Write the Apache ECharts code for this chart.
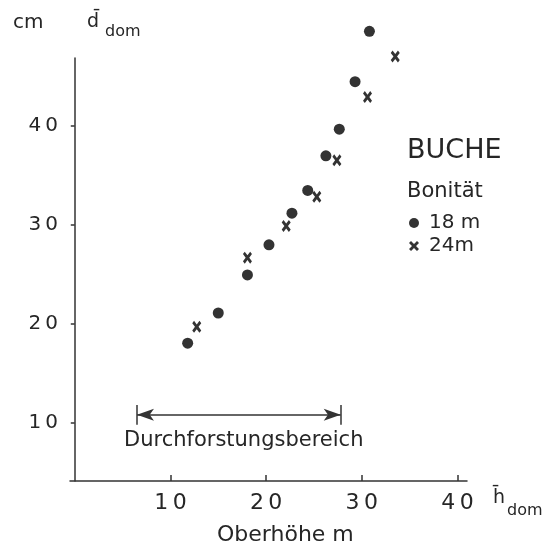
<!DOCTYPE html>
<html>
<head>
<meta charset="utf-8">
<script src="https://cdn.jsdelivr.net/npm/echarts@6/dist/echarts.min.js"></script>
<style>
  html, body { margin: 0; padding: 0; background: #fff; }
  #chart { width: 547px; height: 552px; }
</style>
</head>
<body>
<div id="chart"></div>
<script>
// Buche: mittlerer Durchmesser der Dominanten ueber der Oberhoehe

var ticks = [10, 20, 30, 40];

// Bonitaet 18 m (Punkte)
var h18 = [11.8, 15.0, 18.05, 20.3, 22.7, 24.35, 26.25, 27.65, 29.3, 30.8];
var d18 = [18.05, 21.1, 24.95, 28.0, 31.2, 33.5, 37.0, 39.7, 44.5, 49.6];

// Bonitaet 24 m (Kreuze)
var h24 = [12.75, 18.05, 22.1, 25.3, 27.4, 30.6, 33.5];
var d24 = [19.7, 26.7, 29.9, 32.85, 36.55, 42.95, 47.05];

// Durchforstungsbereich (Oberhoehe von - bis)
var thinRange = [6.5, 27.8];
var thinLevel = 10.8;

var ink = '#333';
var textInk = '#262626';
var font = 'DejaVu Sans';
var crossPath = 'path://M0,2L2,0L5,3L8,0L10,2L7,5L10,8L8,10L5,7L2,10L0,8L3,5Z';

function pairs(xs, ys) {
    return xs.map(function (x, i) { return [x, ys[i]]; });
}

// the original lettering is widely spaced
function spaced(v) {
    return String(v).split('').join('\u2009');
}

function label(text, left, top, size) {
    return { type: 'text', left: left, top: top, style: { text: text, fill: textInk, font: size + 'px "DejaVu Sans"' } };
}

var chart = echarts.init(document.getElementById('chart'));

var option = {
    backgroundColor: '#fff',
    animation: false,
    grid: { left: 70, right: 80, top: 58, bottom: 71 },
    xAxis: {
        type: 'value',
        min: -0.5,
        max: 41,
        splitLine: { show: false },
        axisLine: { lineStyle: { color: ink, width: 1.5 } },
        axisTick: { inside: true, length: 6, customValues: ticks, lineStyle: { color: ink, width: 1.5 } },
        axisLabel: { customValues: ticks, margin: 11, color: textInk, fontFamily: font, fontSize: 22, formatter: spaced }
    },
    yAxis: {
        type: 'value',
        min: 4.1,
        max: 46.9,
        splitLine: { show: false },
        axisLine: { show: true, lineStyle: { color: ink, width: 1.5 } },
        axisTick: { length: 4, customValues: ticks, lineStyle: { color: ink, width: 1.5 } },
        axisLabel: { customValues: ticks, margin: 12, color: textInk, fontFamily: font, fontSize: 20, formatter: spaced }
    },
    legend: {
        orient: 'vertical',
        left: 404,
        top: 208,
        itemGap: 3,
        itemWidth: 10,
        itemHeight: 11,
        textStyle: { color: textInk, fontFamily: font, fontSize: 20, padding: [0, 0, 0, 5] },
        data: [
            { name: '18 m', icon: 'circle' },
            { name: '24m', icon: crossPath }
        ]
    },
    graphic: [
        label('cm', 13, 13, 20),
        label('d\u0304', 87, 13, 19),
        label('dom', 105, 24, 16),
        label('h\u0304', 493, 489, 19),
        label('dom', 507, 503, 16),
        label('Oberhöhe m', 217, 524, 22),
        label('Durchforstungsbereich', 124, 430, 21),
        label('BUCHE', 407, 137, 27),
        label('Bonität', 407, 181, 21)
    ],
    series: [
        {
            name: '18 m',
            type: 'scatter',
            symbol: 'circle',
            symbolSize: 11,
            clip: false,
            itemStyle: { color: ink, opacity: 1 },
            data: pairs(h18, d18),
            markLine: {
                silent: true,
                symbol: ['none', 'none'],
                label: { show: false },
                lineStyle: { color: ink, width: 1.5, type: 'solid' },
                data: [
                    [
                        { coord: [thinRange[0], thinLevel], symbol: 'arrow', symbolSize: [9, 17] },
                        { coord: [thinRange[1], thinLevel], symbol: 'arrow', symbolSize: [9, 17] }
                    ],
                    [{ coord: [thinRange[0], thinLevel - 1] }, { coord: [thinRange[0], thinLevel + 1] }],
                    [{ coord: [thinRange[1], thinLevel - 1] }, { coord: [thinRange[1], thinLevel + 1] }]
                ]
            }
        },
        {
            name: '24m',
            type: 'scatter',
            symbol: crossPath,
            symbolSize: [9, 12],
            clip: false,
            itemStyle: { color: ink, opacity: 1 },
            data: pairs(h24, d24)
        }
    ]
};

chart.setOption(option);
</script>
</body>
</html>
